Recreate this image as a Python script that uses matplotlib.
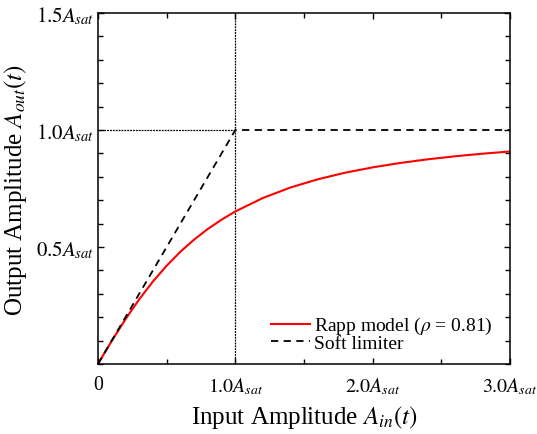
import matplotlib
matplotlib.use('Agg')
import matplotlib.pyplot as plt
from matplotlib.ticker import MultipleLocator

# 读取自图中的 Rapp 模型曲线 (rho = 0.81)
x_in = [0.0, 0.05, 0.1, 0.2, 0.3, 0.4, 0.5, 0.6, 0.7, 0.8, 0.9, 1.0,
        1.2, 1.4, 1.6, 1.8, 2.0, 2.2, 2.4, 2.6, 2.8, 3.0]
rapp_out = [0.0, 0.0498, 0.0985, 0.1914, 0.2763, 0.3526, 0.4202, 0.4797,
            0.5318, 0.5773, 0.6170, 0.6519, 0.7093, 0.7540, 0.7893, 0.8176,
            0.8403, 0.8591, 0.8747, 0.8877, 0.8988, 0.9082]

# 软限幅器
lim_in = [0.0, 1.0, 3.0]
lim_out = [0.0, 1.0, 1.0]

x_ticks = [0, 1, 2, 3]
x_labels = ['0', r'$1.0A_{sat}$', r'$2.0A_{sat}$', r'$3.0A_{sat}$']
y_ticks = [0.5, 1.0, 1.5]
y_labels = [r'$0.5A_{sat}$', r'$1.0A_{sat}$', r'$1.5A_{sat}$']

plt.rcParams['font.family'] = ['Liberation Serif', 'DejaVu Serif']
plt.rcParams['mathtext.fontset'] = 'stix'

fig = plt.figure(figsize=(5.37, 4.35), dpi=100)
ax = fig.add_axes([0.1825, 0.1609, 0.7672, 0.8069])

# 参考线
ax.plot([1, 1], [0, 1.5], color='black', lw=0.9, ls=(0, (1.5, 0.8)))
ax.plot([0, 1], [1, 1], color='black', lw=0.9, ls=(0, (1.5, 0.8)))

ax.plot(x_in, rapp_out, color='red', lw=1.5, label=r'Rapp model ($\rho$ = 0.81)')
ax.plot(lim_in, lim_out, color='black', lw=1.3, ls=(0, (4, 3)), label='Soft limiter')

ax.set_xlim(0, 3)
ax.set_ylim(0, 1.5)
ax.set_xticks(x_ticks)
ax.set_xticklabels(x_labels)
ax.set_yticks(y_ticks)
ax.set_yticklabels(y_labels)
ax.xaxis.set_minor_locator(MultipleLocator(0.5))
ax.yaxis.set_minor_locator(MultipleLocator(0.1))
ax.tick_params(which='both', direction='in', top=True, right=True)
ax.tick_params(axis='x', labelsize=14.3, pad=8)
ax.tick_params(axis='y', labelsize=15, pad=3)
ax.tick_params(which='major', length=4, width=1)
ax.tick_params(which='minor', length=3.5, width=1)

for s in ax.spines.values():
    s.set_linewidth(1.1)

ax.set_xlabel(r'Input Amplitude $A_{in}(t)$', fontsize=18, labelpad=5)
ax.set_ylabel(r'Output Amplitude $A_{out}(t)$', fontsize=18, labelpad=5)

ax.legend(loc='lower right', bbox_to_anchor=(0.99, -0.005), frameon=False,
          fontsize=14, handlelength=2.0, handletextpad=0.2,
          labelspacing=-0.1, borderpad=0.2)

fig.savefig('out.png', dpi=100)
